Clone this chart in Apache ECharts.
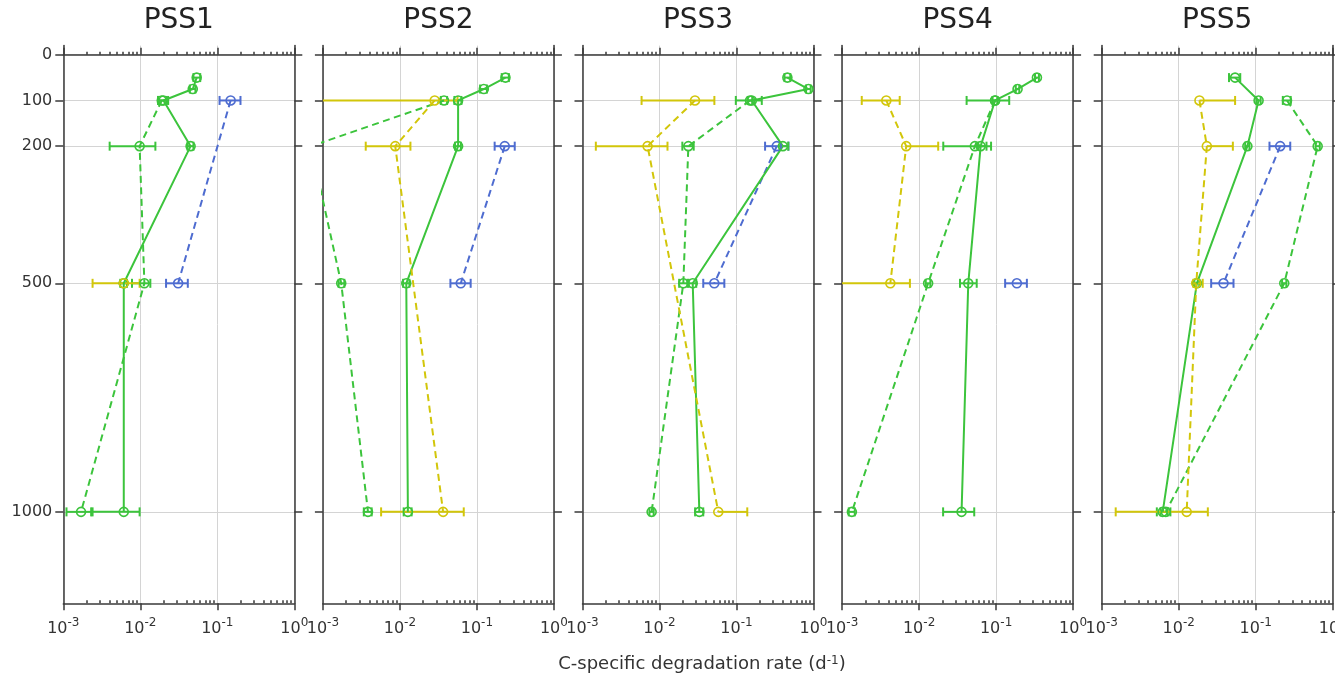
<!DOCTYPE html>
<html>
<head>
<meta charset="utf-8">
<script src="https://cdn.jsdelivr.net/npm/echarts@6/dist/echarts.min.js"></script>
<style>
  html, body { margin: 0; padding: 0; background: #fff; }
  #main { width: 1335px; height: 676px; }
</style>
</head>
<body>
<div id="main"></div>
<script>
// ticks and labels
const panelTitles = ['PSS1', 'PSS2', 'PSS3', 'PSS4', 'PSS5'];
const depthTicks = [0, 100, 200, 500, 1000];
const xTickExps = ['-3', '-2', '-1', '0'];
const xMinorTicks = [0.002, 0.003, 0.004, 0.005, 0.006, 0.007, 0.008, 0.009,
  0.02, 0.03, 0.04, 0.05, 0.06, 0.07, 0.08, 0.09,
  0.2, 0.3, 0.4, 0.5, 0.6, 0.7, 0.8, 0.9];

// rows: [depth (m), rate (d-1), lower bound, upper bound]
// lower = 0 -> whisker runs off the left edge; lower/upper = rate -> no whisker on that side
const pss1Solid = [[50, 0.054, 0.049, 0.060], [75, 0.048, 0.044, 0.052], [100, 0.020, 0.017, 0.023],
  [200, 0.045, 0.041, 0.049], [500, 0.0061, 0.0055, 0.0067], [1000, 0.0061, 0.0024, 0.0098]];
const pss1Dashed = [[100, 0.019, 0.017, 0.022], [200, 0.0098, 0.0040, 0.0157],
  [500, 0.0113, 0.0078, 0.0135], [1000, 0.0017, 0.0011, 0.0023]];
const pss1Yellow = [[500, 0.0061, 0.0024, 0.0098]];
const pss1Blue = [[100, 0.149, 0.107, 0.200], [500, 0.031, 0.0216, 0.0414]];

const pss2Solid = [[50, 0.235, 0.21, 0.26], [75, 0.123, 0.11, 0.135], [100, 0.057, 0.051, 0.063],
  [200, 0.057, 0.052, 0.062], [500, 0.0121, 0.011, 0.0133], [1000, 0.0127, 0.0112, 0.0142]];
const pss2Dashed = [[100, 0.0374, 0.034, 0.041], [200, 0.0007, 0.0007, 0.0007],
  [500, 0.00173, 0.0016, 0.0019], [1000, 0.00385, 0.0034, 0.0043]];
const pss2Yellow = [[100, 0.0283, 0, 0.056], [200, 0.0087, 0.0036, 0.0137], [1000, 0.0364, 0.0057, 0.0675]];
const pss2Blue = [[200, 0.23, 0.17, 0.31], [500, 0.0617, 0.0453, 0.083]];

const pss3Solid = [[50, 0.458, 0.42, 0.50], [75, 0.86, 0.80, 0.92], [100, 0.158, 0.098, 0.213],
  [200, 0.40, 0.37, 0.47], [500, 0.027, 0.024, 0.030], [1000, 0.0329, 0.029, 0.037]];
const pss3Dashed = [[100, 0.15, 0.14, 0.16], [200, 0.0237, 0.0198, 0.0278],
  [500, 0.0204, 0.018, 0.023], [1000, 0.0079, 0.0074, 0.0084]];
const pss3Yellow = [[100, 0.0289, 0.00585, 0.0516], [200, 0.0070, 0.00149, 0.0127], [1000, 0.058, 0.058, 0.138]];
const pss3Blue = [[200, 0.333, 0.235, 0.473], [500, 0.0515, 0.037, 0.0695]];

const pss4Solid = [[50, 0.339, 0.32, 0.36], [75, 0.19, 0.18, 0.20], [100, 0.097, 0.0414, 0.148],
  [200, 0.063, 0.058, 0.075], [500, 0.0435, 0.034, 0.056], [1000, 0.0356, 0.0205, 0.052]];
const pss4Dashed = [[100, 0.097, 0.09, 0.104], [200, 0.053, 0.0206, 0.086],
  [500, 0.0131, 0.0122, 0.014], [1000, 0.00134, 0.00122, 0.00146]];
const pss4Yellow = [[100, 0.00375, 0.0018, 0.0056], [200, 0.0068, 0.0068, 0.0177], [500, 0.00423, 0, 0.0076]];
const pss4Blue = [[500, 0.186, 0.131, 0.251]];

const pss5Solid = [[50, 0.054, 0.045, 0.063], [100, 0.109, 0.102, 0.116], [200, 0.078, 0.073, 0.083],
  [500, 0.0172, 0.016, 0.0185], [1000, 0.0062, 0.0052, 0.0072]];
const pss5Dashed = [[100, 0.255, 0.225, 0.285], [200, 0.638, 0.60, 0.68],
  [500, 0.235, 0.22, 0.25], [1000, 0.0068, 0.0058, 0.0078]];
const pss5Yellow = [[100, 0.0186, 0.0186, 0.054], [200, 0.0232, 0.0232, 0.0505],
  [500, 0.0169, 0.0155, 0.0205], [1000, 0.0127, 0.00152, 0.0239]];
const pss5Blue = [[200, 0.208, 0.151, 0.281], [500, 0.0382, 0.0264, 0.0515]];

const panels = [
  { blue: pss1Blue, dashed: pss1Dashed, solid: pss1Solid, yellow: pss1Yellow },
  { blue: pss2Blue, dashed: pss2Dashed, solid: pss2Solid, yellow: pss2Yellow },
  { blue: pss3Blue, dashed: pss3Dashed, solid: pss3Solid, yellow: pss3Yellow },
  { blue: pss4Blue, dashed: pss4Dashed, solid: pss4Solid, yellow: pss4Yellow },
  { blue: pss5Blue, dashed: pss5Dashed, solid: pss5Solid, yellow: pss5Yellow },
];

const GREEN = '#3cc43c';
const YELLOW = '#d2c60a';
const BLUE = '#4e6cd0';
const AXIS = '#3a3a3a';
const GRIDC = '#d4d4d4';
const FONT = 'DejaVu Sans';
const DASH = [7, 4.5];

const kinds = {
  blue: { color: BLUE, type: DASH },
  dashed: { color: GREEN, type: DASH },
  solid: { color: GREEN, type: 'solid' },
  yellow: { color: YELLOW, type: DASH },
};

const X_MIN = 0.001, X_MAX = 1;
const gridLeft = i => 63.3 + i * 259.6;
const GRID_W = 231, GRID_TOP = 45.6, GRID_H = 557.7;

const chart = echarts.init(document.getElementById('main'));

const grids = [], xAxes = [], yAxes = [], series = [];
const axisLineStyle = { color: AXIS, width: 1.5 };

panels.forEach((panel, i) => {
  grids.push({ left: gridLeft(i), top: GRID_TOP, width: GRID_W, height: GRID_H, outerBoundsMode: 'none' });

  const logBase = { type: 'log', logBase: 10, min: X_MIN, max: X_MAX, gridIndex: i };
  // bottom: decades + labels
  xAxes.push(Object.assign({}, logBase, {
    position: 'bottom',
    axisLine: { onZero: false, lineStyle: axisLineStyle },
    axisTick: { inside: false, length: 7, lineStyle: axisLineStyle },
    minorTick: { show: false },
    splitLine: { show: true, lineStyle: { color: GRIDC, width: 1 } },
    axisLabel: {
      margin: 14, showMinLabel: true, showMaxLabel: true,
      formatter: (v, idx) => '{b|10}{s|' + xTickExps[idx] + '}',
      rich: {
        b: { fontSize: 16, fontFamily: FONT, color: '#333', lineHeight: 24 },
        s: { fontSize: 12, fontFamily: FONT, color: '#333', lineHeight: 12, verticalAlign: 'top' },
      },
    },
  }));
  // bottom: minor ticks
  xAxes.push(Object.assign({}, logBase, {
    position: 'bottom',
    axisLine: { show: false, onZero: false },
    axisTick: { inside: true, length: 3, customValues: xMinorTicks, lineStyle: axisLineStyle },
    axisLabel: { show: false },
    splitLine: { show: false },
  }));
  // top: axis at depth 0
  xAxes.push(Object.assign({}, logBase, {
    position: 'top',
    axisLine: { onZero: true, lineStyle: axisLineStyle },
    axisTick: { inside: false, length: 7, lineStyle: axisLineStyle },
    axisLabel: { show: false },
    splitLine: { show: false },
  }));
  xAxes.push(Object.assign({}, logBase, {
    position: 'top',
    axisLine: { show: false, onZero: true },
    axisTick: { inside: false, length: 3, customValues: xMinorTicks, lineStyle: axisLineStyle },
    axisLabel: { show: false },
    splitLine: { show: false },
  }));

  const depthAxis = { type: 'value', min: -20, max: 1200, inverse: true, gridIndex: i };
  yAxes.push(Object.assign({}, depthAxis, {
    position: 'left',
    axisLine: { show: true, onZero: false, lineStyle: axisLineStyle },
    axisTick: { show: true, length: 8, customValues: depthTicks, lineStyle: axisLineStyle },
    axisLabel: {
      show: i === 0, customValues: depthTicks, formatter: v => String(v),
      fontSize: 16, fontFamily: FONT, color: '#333', margin: 11,
    },
    splitLine: { show: true, lineStyle: { color: GRIDC, width: 1 } },
  }));
  yAxes.push(Object.assign({}, depthAxis, {
    position: 'right',
    axisLine: { show: true, onZero: false, lineStyle: axisLineStyle },
    axisTick: { show: true, length: 8, customValues: depthTicks, lineStyle: axisLineStyle },
    axisLabel: { show: false },
    splitLine: { show: false },
  }));

  Object.keys(kinds).forEach(k => {
    const rows = panel[k];
    const st = kinds[k];
    series.push({
      type: 'custom',
      xAxisIndex: 4 * i, yAxisIndex: 2 * i,
      data: rows.map(r => [r[1], r[0], r[2], r[3]]),
      encode: { x: 0, y: 1 },
      silent: true,
      z: 2,
      renderItem: (params, api) => {
        const v = api.value(0), d = api.value(1), lo = api.value(2), hi = api.value(3);
        const cs = params.coordSys;
        const xmin = cs.x, xmax = cs.x + cs.width;
        const toX = val => val <= X_MIN ? xmin : Math.min(api.coord([val, d])[0], xmax);
        const y = api.coord([Math.max(v, X_MIN), d])[1];
        const xl = toX(lo), xh = toX(hi);
        const style = { stroke: st.color, lineWidth: 2, fill: null };
        const children = [];
        const cap = 4.5;
        if (xh - xl > 0.5) children.push({ type: 'line', shape: { x1: xl, y1: y, x2: xh, y2: y }, style });
        if (lo > X_MIN && lo < v) children.push({ type: 'line', shape: { x1: xl, y1: y - cap, x2: xl, y2: y + cap }, style });
        if (hi > v && hi < X_MAX) children.push({ type: 'line', shape: { x1: xh, y1: y - cap, x2: xh, y2: y + cap }, style });
        return { type: 'group', children };
      },
    });
    series.push({
      type: 'line',
      xAxisIndex: 4 * i, yAxisIndex: 2 * i,
      data: rows.map(r => [r[1], r[0]]),
      symbol: 'circle',
      symbolSize: 9,
      clip: true,
      z: 3,
      lineStyle: { color: st.color, width: 2, type: st.type },
      itemStyle: { color: 'rgba(255,255,255,0)', borderColor: st.color, borderWidth: 1.6 },
      emphasis: { disabled: true },
    });
  });
});

const graphics = panelTitles.map((t, i) => ({
  type: 'text',
  x: gridLeft(i) + GRID_W / 2,
  y: 21,
  style: { text: t, fontSize: 28, fontFamily: FONT, fill: '#222', align: 'center', verticalAlign: 'middle' },
}));
graphics.push({
  type: 'text',
  x: 702,
  y: 664,
  style: {
    text: 'C-specific degradation rate (d{s|-1})',
    fontSize: 18, fontFamily: FONT, fill: '#333', align: 'center', verticalAlign: 'middle',
    rich: { s: { fontSize: 12, fontFamily: FONT, fill: '#333', verticalAlign: 'top', lineHeight: 12 } },
  },
});

const option = {
  animation: false,
  backgroundColor: '#fff',
  grid: grids,
  xAxis: xAxes,
  yAxis: yAxes,
  series: series,
  graphic: graphics,
};

chart.setOption(option);
</script>
</body>
</html>
